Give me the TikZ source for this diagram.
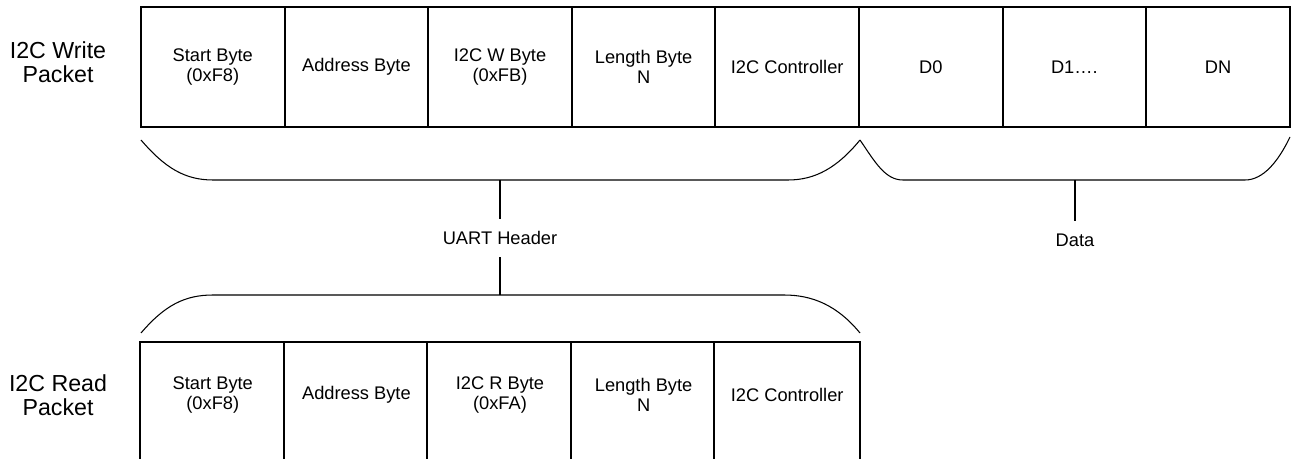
\documentclass[tikz,border=0pt]{standalone}
\usepackage{fontspec}
\setmainfont{Liberation Sans}
\usetikzlibrary{calc}

\begin{document}
\begin{tikzpicture}[x=0.02cm, y=-0.02cm,
	field/.style={draw, line width=1.1pt, minimum width=2.872cm, minimum height=2.4cm, inner sep=0pt, align=center, font=\fontsize{10.4}{11.4}\selectfont},
	openfield/.style={field, draw=none, minimum height=2.08cm},
	packet/.style={align=center, font=\fontsize{13.2}{13.8}\selectfont},
	brace/.style={line width=0.6pt},
	part/.style={inner sep=0pt, minimum height=0.76cm, font=\fontsize{10.4}{11.4}\selectfont}]
		%%%%% START %%%%%
		
		\useasboundingbox (0, 0) rectangle (1292, 459);
		\coordinate (bot) at (0, 459);
		
		\node[packet] (wlabel) at (58, 62) {I2C Write\\Packet};
		\node[packet] (rlabel) at (58, 395) {I2C Read\\Packet};
		
		\node[field] (w1) at (212.8, 67) {Start Byte\\(0xF8)};
		\node[field] (w2) at (356.4, 67) {Address Byte};
		\node[field] (w3) at (500, 67) {I2C W Byte\\(0xFB)};
		\node[field] (w4) at (643.6, 67) {Length Byte\\N};
		\node[field] (w5) at (787.2, 67) {I2C Controller};
		\node[field] (w6) at (930.8, 67) {D0};
		\node[field] (w7) at (1074.4, 67) {D1\dots.};
		\node[field] (w8) at (1218, 67) {DN};
		
		\draw[brace] (141, 140) .. controls (165, 168) and (185, 180) .. (213, 180) -- (788, 180) .. controls (815, 180) and (837, 168) .. (860, 140);
		\draw[brace] (860, 140) .. controls (875, 162) and (885, 180) .. (903, 180) -- (1245, 180) .. controls (1263, 180) and (1278, 162) .. (1290, 137);
		
		\coordinate (hdrtop) at (500, 180);
		\coordinate (datatop) at (1075, 180);
		\coordinate (hdrbot) at (500, 295);
		\node[part] (hdr) at (500, 238) {UART Header};
		\node[part] (data) at (1075, 240) {Data};
		\draw[brace] (hdrtop) -- (hdr);
		\draw[brace] (datatop) -- (data);
		\draw[brace] (hdr) -- (hdrbot);
		
		\draw[brace] (141, 333) .. controls (165, 305) and (185, 295) .. (213, 295) -- (784, 295) .. controls (812, 295) and (837, 305) .. (860, 333);
		
		\node[openfield] (r1) at (212.8, 395) {Start Byte\\(0xF8)};
		\node[openfield] (r2) at (356.4, 395) {Address Byte};
		\node[openfield] (r3) at (500, 395) {I2C R Byte\\(0xFA)};
		\node[openfield] (r4) at (643.6, 395) {Length Byte\\N};
		\node[openfield] (r5) at (787.2, 395) {I2C Controller};
		
		\draw[line width=1.1pt] (r1.north west |- bot) -- (r1.north west) -- (r5.north east) -- (r5.north east |- bot);
		\foreach \f in {r2, r3, r4, r5}
			\draw[line width=1.1pt] (\f.north west) -- (\f.north west |- bot);
		
		%%%%% END %%%%%
\end{tikzpicture}
\end{document}
